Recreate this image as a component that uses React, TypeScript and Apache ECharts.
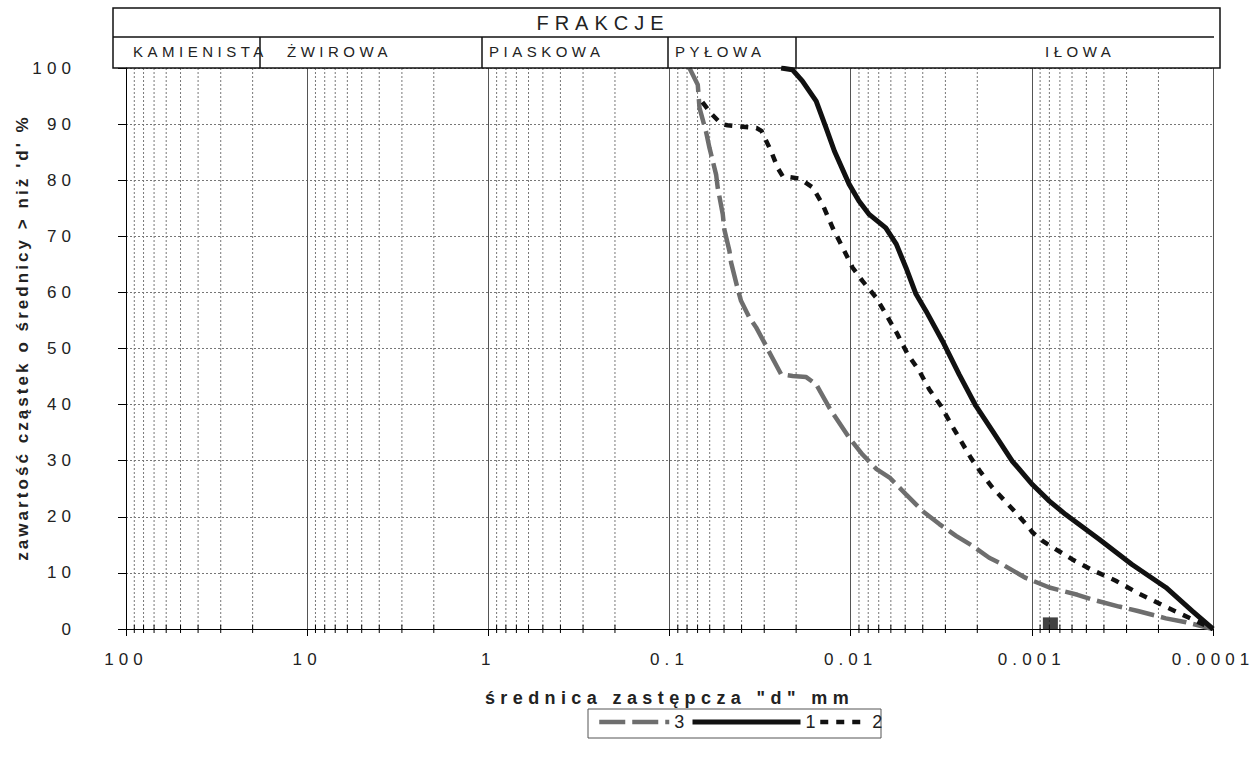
import React, { useEffect, useRef } from 'react';
import * as echarts from 'echarts';

// ---- axis ticks ----
const decades = [100, 10, 1, 0.1, 0.01, 0.001, 0.0001];
const tickLabels = ['100', '10', '1', '0.1', '0.01', '0.001', '0.0001'];
const minorSteps = [2, 3, 4, 5, 6, 7, 8, 9];

// ---- texts ----
const headerTitle = 'FRAKCJE';
const fractionNames = ['KAMIENISTA', 'ŻWIROWA', 'PIASKOWA', 'PYŁOWA', 'IŁOWA'];
const xTitle = 'średnica zastępcza "d" mm';
const yTitle = "zawartość cząstek o średnicy > niż 'd' %";
const legendOrder = ['3', '1', '2'];

// ---- series 1 (solid) ----
const d1 = [0.0242, 0.021, 0.0185, 0.0155, 0.0137, 0.0123, 0.0102, 0.009, 0.0079, 0.0064, 0.0056, 0.00495, 0.00436, 0.00384, 0.00311, 0.00252, 0.00204, 0.00165, 0.00128, 0.00099, 0.0008, 0.00065, 0.000425, 0.00028, 0.000182, 0.00013, 0.0001];
const p1 = [100, 99.7, 97.7, 94.1, 89.4, 85.2, 79.3, 76.3, 73.9, 71.5, 68.6, 64.4, 59.7, 56.7, 51.3, 45.4, 39.8, 35.3, 29.9, 25.7, 22.8, 20.4, 16.0, 11.5, 7.4, 3.2, 0];

// ---- series 2 (dashed) ----
const d2 = [0.0658, 0.0586, 0.0516, 0.0479, 0.0331, 0.0311, 0.0275, 0.0253, 0.0237, 0.0192, 0.0162, 0.0143, 0.01257, 0.01107, 0.00975, 0.00859, 0.00724, 0.00638, 0.00551, 0.00485, 0.00418, 0.00368, 0.00318, 0.00279, 0.00246, 0.00217, 0.00191, 0.00165, 0.00128, 0.001057, 0.00099, 0.000873, 0.000736, 0.000597, 0.000463, 0.000344, 0.000256, 0.000186, 0.0001355, 0.0001];
const p2 = [93.9, 91.8, 90.0, 89.8, 89.3, 88.8, 85.2, 82.2, 80.7, 80.3, 78.7, 75.7, 71.5, 68.0, 64.4, 62.0, 59.1, 56.1, 52.5, 49.0, 46.0, 42.7, 39.8, 36.5, 33.5, 30.5, 27.9, 25.2, 21.4, 18.4, 17.2, 15.7, 14.2, 12.4, 10.5, 8.6, 6.3, 4.1, 2.0, 0];

// ---- series 3 (grey long dash) ----
const d3 = [0.0776, 0.0698, 0.0683, 0.0628, 0.0602, 0.0553, 0.0542, 0.0508, 0.0498, 0.0467, 0.0457, 0.042, 0.0403, 0.0362, 0.0333, 0.0299, 0.0281, 0.0242, 0.0209, 0.0176, 0.0155, 0.0131, 0.0102, 0.0086, 0.0072, 0.0061, 0.00495, 0.004, 0.00324, 0.00262, 0.00212, 0.00172, 0.00151, 0.00108, 0.0008, 0.00056, 0.00047, 0.00033, 0.00026, 0.000182, 0.000141, 0.0001];
const p3 = [100, 97.0, 92.9, 88.6, 85.8, 81.0, 78.7, 73.9, 71.2, 67.4, 65.3, 60.6, 58.5, 55.5, 53.8, 51.0, 49.3, 45.4, 45.1, 44.9, 43.6, 39.4, 34.1, 31.1, 28.5, 27.0, 24.0, 21.0, 18.7, 16.6, 14.8, 12.7, 11.8, 9.1, 7.4, 6.1, 5.3, 4.0, 3.2, 1.9, 1.2, 0];

// ---- single square marker ----
const markerD = [0.00079];
const markerP = [1];

const F = "'Liberation Sans', sans-serif";
const F2 = "'Liberation Sans', Arial, sans-serif";

const zip = (xs: number[], ys: number[]) => xs.map((x, i) => [x, ys[i]]);

export default function App() {
  const ref = useRef<HTMLDivElement>(null);
  useEffect(() => {
    if (!ref.current) return;
    const chart = echarts.init(ref.current, null, { renderer: 'svg' });

    const minorValues: number[] = [];
    decades.slice(1).forEach((d) => minorSteps.forEach((k) => minorValues.push(d * k)));

    const fmt = (v: number) => {
      const i = decades.findIndex((d) => Math.abs(Math.log10(d) - Math.log10(v)) < 1e-6);
      return i >= 0 ? tickLabels[i] : '';
    };

    const sepX = [260, 482, 668, 796];
    const nameX = [133, 287, 489, 675, 1045];

    const graphic: any[] = [
      { type: 'rect', shape: { x: 113, y: 8, width: 1107, height: 60 }, style: { fill: 'none', stroke: '#111', lineWidth: 1.5 }, z: 100 },
      { type: 'line', shape: { x1: 113, y1: 37, x2: 1214, y2: 37 }, style: { stroke: '#111', lineWidth: 1.5 }, z: 100 },
      { type: 'text', x: 603, y: 23, style: { text: headerTitle, font: `20px ${F}`, fill: '#222', textAlign: 'center', textVerticalAlign: 'middle' }, z: 100 },
      { type: 'rect', shape: { x: 588, y: 709, width: 293, height: 29 }, style: { fill: '#fff', stroke: '#555', lineWidth: 1 }, z: 0 },
    ];
    sepX.forEach((x) => graphic.push({ type: 'line', shape: { x1: x, y1: 37, x2: x, y2: 68 }, style: { stroke: '#111', lineWidth: 1.5 }, z: 100 }));
    fractionNames.forEach((n, i) => graphic.push({ type: 'text', x: nameX[i], y: 51, style: { text: n, font: `15px ${F}`, fill: '#222', textAlign: 'left', textVerticalAlign: 'middle' }, z: 101 }));

    const legendBase = {
      selectedMode: false, padding: 0, itemGap: 0, itemHeight: 2, top: 713,
      itemStyle: { opacity: 0 },
      textStyle: { fontSize: 18, color: '#222', fontFamily: F },
    };

    chart.setOption({
      animation: false,
      backgroundColor: '#fff',
      grid: { left: 126, right: 41, top: 68, bottom: 137, containLabel: false, outerBoundsMode: 'none' },
      xAxis: {
        type: 'log', logBase: 10, min: 0.0001, max: 100, inverse: true, splitNumber: 6,
        axisLine: { onZero: false, lineStyle: { color: '#000', width: 1 } },
        axisTick: { show: true, length: 7, lineStyle: { color: '#000' } },
        axisLabel: { margin: 22, fontSize: 17, color: '#222', fontFamily: F, formatter: fmt, hideOverlap: false },
        splitLine: { show: true, lineStyle: { color: '#555', width: 1 } },
        name: xTitle, nameLocation: 'middle', nameGap: 60, nameMoveOverlap: false,
        nameTextStyle: { fontSize: 18, fontWeight: 'bold', color: '#222', fontFamily: F },
      },
      yAxis: {
        type: 'value', min: 0, max: 100, interval: 10,
        axisLine: { show: true, onZero: false, lineStyle: { color: '#000', width: 1 } },
        axisTick: { show: true, length: 8, lineStyle: { color: '#000' } },
        axisLabel: { margin: 50, fontSize: 17, color: '#222', fontFamily: F },
        splitLine: { show: true, lineStyle: { color: '#777', width: 1, type: [2, 2] } },
        name: yTitle, nameLocation: 'middle', nameGap: 95, nameRotate: 90, nameMoveOverlap: false,
        nameTextStyle: { fontSize: 17, fontWeight: 'bold', color: '#222', fontFamily: F2, padding: [0, 0, 0, 22] },
      },
      legend: [
        { ...legendBase, data: [legendOrder[0]], left: 597, itemWidth: 70, lineStyle: { width: 4.5 } },
        { ...legendBase, data: [legendOrder[1]], left: 690, itemWidth: 108, lineStyle: { width: 5 } },
        { ...legendBase, data: [legendOrder[2]], left: 818, itemWidth: 47, lineStyle: { width: 4.5 } },
      ],
      graphic,
      series: [
        {
          type: 'custom', silent: true, z: 1, clip: false,
          data: minorValues.map((v) => [v, 0]),
          encode: { x: 0, y: 1 },
          renderItem: (params: any, api: any) => {
            const v = api.value(0);
            const b = api.coord([v, 0]);
            const t = api.coord([v, 100]);
            return {
              type: 'group',
              children: [
                { type: 'line', shape: { x1: b[0], y1: t[1], x2: b[0], y2: b[1] }, style: { stroke: '#777', lineWidth: 1, lineDash: [2, 2] } },
                { type: 'line', shape: { x1: b[0], y1: b[1] - 4, x2: b[0], y2: b[1] + 4 }, style: { stroke: '#000', lineWidth: 1 } },
              ],
            };
          },
        },
        {
          name: '3', type: 'line', data: zip(d3, p3), symbol: 'none', z: 3,
          lineStyle: { color: '#6e6e6e', width: 4.5, type: [26, 7] }, itemStyle: { color: '#6e6e6e' },
        },
        {
          name: '2', type: 'line', data: zip(d2, p2), symbol: 'none', z: 4,
          lineStyle: { color: '#111', width: 4.5, type: [8, 8] }, itemStyle: { color: '#111' },
        },
        {
          name: '1', type: 'line', data: zip(d1, p1), symbol: 'none', z: 5,
          lineStyle: { color: '#111', width: 5 }, itemStyle: { color: '#111' },
        },
        {
          name: 'marker', type: 'scatter', data: zip(markerD, markerP), symbol: 'rect', symbolSize: [15, 12], z: 6,
          itemStyle: { color: '#111' },
        },
      ],
    });
    return () => chart.dispose();
  }, []);

  return (
    <>
      <style>{`#chart text { letter-spacing: 0.3em; } #chart text[style*="Arial"] { letter-spacing: 0.18em; }`}</style>
      <div id="chart" ref={ref} style={{ position: 'absolute', left: 0, top: 0, width: 1254, height: 766, background: '#fff' }} />
    </>
  );
}
